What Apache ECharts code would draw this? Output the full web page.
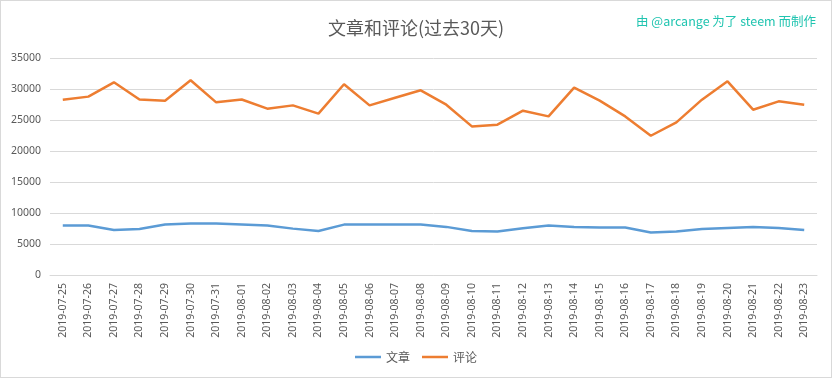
<!DOCTYPE html>
<html><head><meta charset="utf-8">
<script src="https://cdn.jsdelivr.net/npm/echarts@6/dist/echarts.min.js"></script>
<style>
html,body{margin:0;padding:0;background:#fff;}
#c{width:830px;height:376px;border:1px solid #d9d9d9;}
</style></head>
<body><div id="c"></div>
<script>
const categories = ['2019-07-25','2019-07-26','2019-07-27','2019-07-28','2019-07-29','2019-07-30','2019-07-31','2019-08-01','2019-08-02','2019-08-03','2019-08-04','2019-08-05','2019-08-06','2019-08-07','2019-08-08','2019-08-09','2019-08-10','2019-08-11','2019-08-12','2019-08-13','2019-08-14','2019-08-15','2019-08-16','2019-08-17','2019-08-18','2019-08-19','2019-08-20','2019-08-21','2019-08-22','2019-08-23'];
const posts = [7970,7970,7270,7430,8130,8290,8290,8130,7970,7480,7110,8130,8130,8130,8130,7760,7110,7000,7540,7970,7760,7650,7650,6840,7000,7430,7600,7760,7600,7270];
const comments = [28280,28770,31080,28300,28120,31400,27850,28300,26830,27360,26020,30760,27360,28600,29790,27470,23970,24240,26500,25580,30220,28120,25580,22460,24620,28280,31240,26660,28010,27470];
const seriesNames = ['文章','评论'];
const yTicks = [0,5000,10000,15000,20000,25000,30000,35000];

const chart = echarts.init(document.getElementById('c'));
const font = '"Noto Sans CJK SC","Noto Sans",sans-serif';
chart.setOption({
  animation:false,
  textStyle:{fontFamily:font},
  title:[
    {text:'文章和评论(过去30天)',left:'center',top:13,textStyle:{fontSize:18,fontWeight:'normal',color:'#595959',fontFamily:font}},
    {text:'由 @arcange 为了 steem 而制作',right:10,top:9,textStyle:{fontSize:12.5,fontWeight:'normal',color:'#20c4b0',fontFamily:font}}
  ],
  legend:{bottom:9,left:'center',icon:'rect',itemWidth:26,itemHeight:2.5,itemGap:12,
    textStyle:{fontSize:12,color:'#595959',fontFamily:font},data:seriesNames},
  grid:{left:49,right:14,top:57,bottom:102,containLabel:false},
  xAxis:{type:'category',data:categories,boundaryGap:true,
    axisLine:{show:true,lineStyle:{color:'#d9d9d9'}},axisTick:{show:false},
    axisLabel:{rotate:90,interval:0,fontSize:10.5,color:'#595959',margin:8,fontFamily:'"Noto Sans",sans-serif'}},
  yAxis:{type:'value',min:yTicks[0],max:yTicks[yTicks.length-1],interval:5000,
    axisLine:{show:false},axisTick:{show:false},
    splitLine:{lineStyle:{color:'#d9d9d9',width:1}},
    axisLabel:{fontSize:10.5,color:'#595959',margin:9,fontFamily:'"Noto Sans",sans-serif',formatter:v=>String(v)}},
  series:[
    {name:seriesNames[0],type:'line',data:posts,symbol:'none',lineStyle:{color:'#5b9bd5',width:2.5},itemStyle:{color:'#5b9bd5'}},
    {name:seriesNames[1],type:'line',data:comments,symbol:'none',lineStyle:{color:'#ed7d31',width:2.5},itemStyle:{color:'#ed7d31'}}
  ]
});
</script></body></html>
